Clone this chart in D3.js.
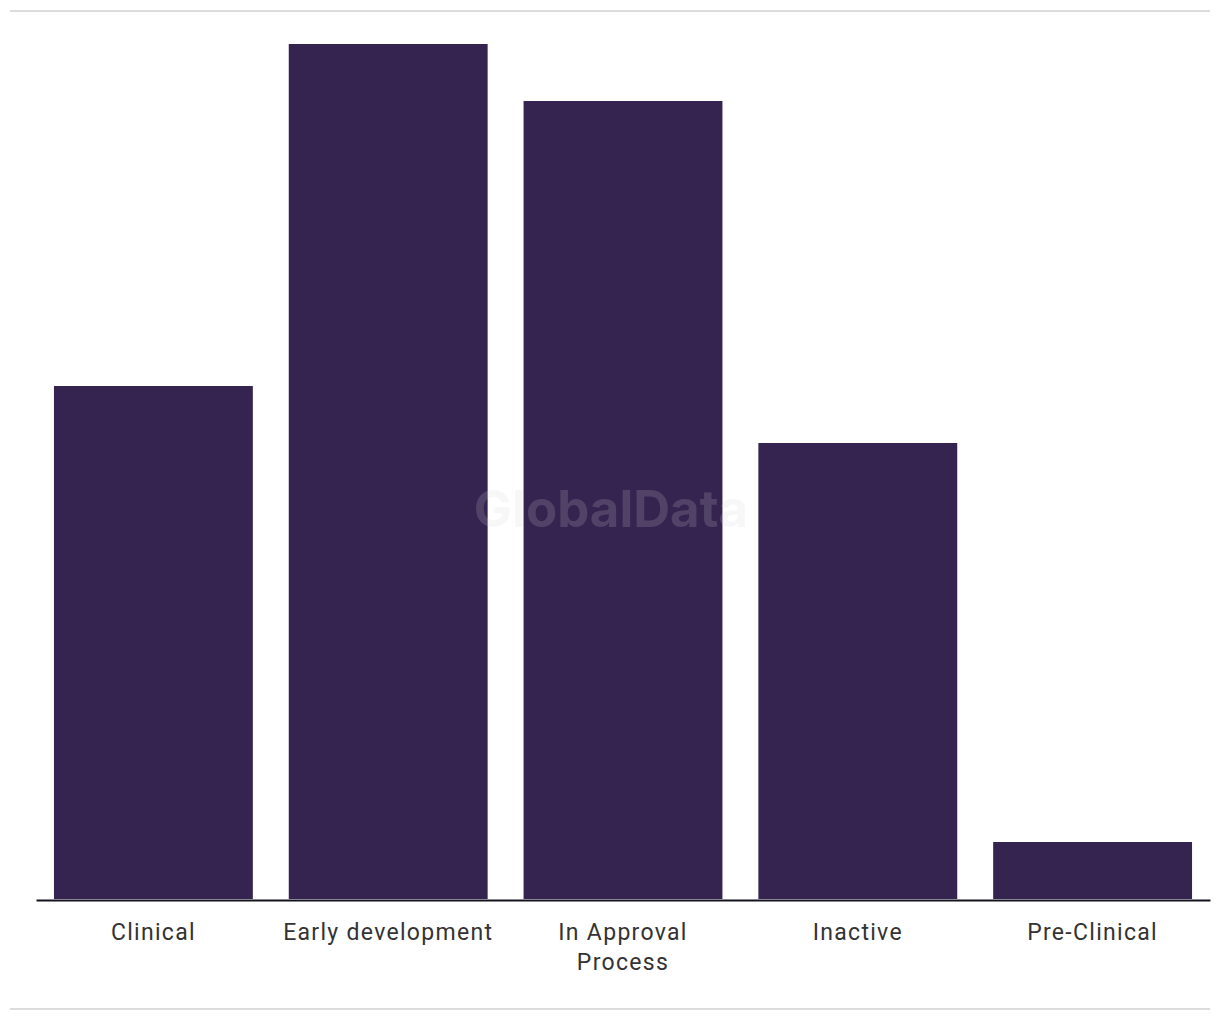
<!DOCTYPE html>
<html><head><meta charset="utf-8">
<script src="https://cdn.jsdelivr.net/npm/d3@7"></script>
<style>body{margin:0;background:#fff;}svg{display:block;}</style>
</head><body>
<svg id="c" width="1220" height="1020"></svg>
<script>
const categories = ["Clinical", "Early development", "In Approval Process", "Inactive", "Pre-Clinical"];
const labelLines = [["Clinical"], ["Early development"], ["In Approval", "Process"], ["Inactive"], ["Pre-Clinical"]];
const values = [9, 15, 14, 8, 1];

const svg = d3.select("#c");
const x = d3.scaleBand().domain(categories).range([36, 1210]).paddingInner(0.153).paddingOuter(0.0765);
const y = d3.scaleLinear().domain([0, 15]).range([899, 44]);

svg.append("line").attr("x1", 10).attr("x2", 1210).attr("y1", 11).attr("y2", 11)
  .attr("stroke", "#dcdcdc").attr("stroke-width", 2);
svg.append("line").attr("x1", 10).attr("x2", 1210).attr("y1", 1009).attr("y2", 1009)
  .attr("stroke", "#dcdcdc").attr("stroke-width", 2);

svg.selectAll("rect.bar").data(values).join("rect").attr("class", "bar")
  .attr("x", (d, i) => x(categories[i])).attr("width", x.bandwidth())
  .attr("y", d => y(d)).attr("height", d => y(0) - y(d))
  .attr("fill", "#352350");

svg.append("text").attr("x", 611).attr("y", 527).attr("text-anchor", "middle")
  .attr("font-family", "Inter, 'Liberation Sans', sans-serif").attr("font-weight", 700)
  .attr("font-size", 51).attr("fill", "#d4d0da").attr("fill-opacity", 0.18)
  .text("GlobalData");

const axis = d3.axisBottom(x).tickSize(0).tickFormat("");
const g = svg.append("g").attr("transform", "translate(0,900)").call(axis);
g.select(".domain").attr("stroke", "#14121f").attr("stroke-width", 2);
g.selectAll(".tick").each(function(d, i) {
  const t = d3.select(this).append("text").attr("fill", "#333")
    .attr("font-family", "Roboto, 'Noto Sans', sans-serif").attr("font-size", 23)
    .attr("text-anchor", "middle").attr("letter-spacing", 1.3);
  labelLines[i].forEach((s, j) => t.append("tspan").attr("x", 0).attr("y", 40 + j * 30).text(s));
});
</script>
</body></html>
